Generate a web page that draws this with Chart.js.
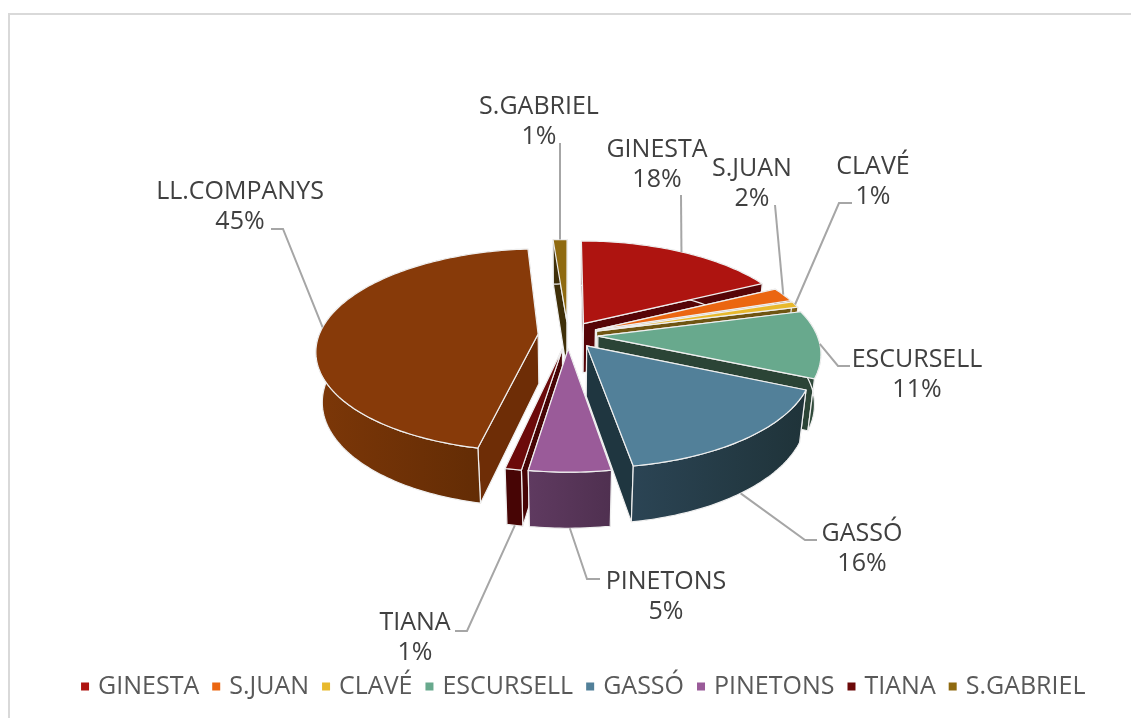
<!DOCTYPE html>
<html>
<head>
<meta charset="utf-8">
<style>
  html, body { margin: 0; padding: 0; background: #fff; }
  #frame { position: absolute; left: 8px; top: 13px; right: -4px; bottom: -4px; border: 2px solid #d9d9d9; }
  canvas { position: absolute; left: 0; top: 0; }
</style>
<script src="https://cdn.jsdelivr.net/npm/chart.js@4"></script>
</head>
<body>
<div id="frame"></div>
<canvas id="pie" width="1131" height="718"></canvas>
<script>
const categories = ['GINESTA', 'S.JUAN', 'CLAVÉ', 'ESCURSELL', 'GASSÓ', 'PINETONS', 'TIANA', 'LL.COMPANYS', 'S.GABRIEL'];
const shares = [17.6, 2.3, 1.0, 10.7, 15.8, 5.0, 1.0, 45.4, 1.2];
// la leyenda original no incluye LL.COMPANYS
const legendCategories = ['GINESTA', 'S.JUAN', 'CLAVÉ', 'ESCURSELL', 'GASSÓ', 'PINETONS', 'TIANA', 'S.GABRIEL'];

const topColors = ['#ae1410', '#eb6611', '#e8b92d', '#68a98d', '#528099', '#9a5b99', '#6c0a0a', '#873a09', '#8f6a10'];
const cutColors = ['#560507', '#70300a', '#6f5512', '#2b4436', '#1f3640', '#4f3050', '#470505', '#6e2d06', '#3f2f08'];
const wallLeft = ['#560507', '#8a3d0a', '#8a6c18', '#35503f', '#2b4454', '#5f3a60', '#470505', '#7c3708', '#3f2f08'];
const wallRight = ['#560507', '#70300a', '#6f5512', '#2b4436', '#1f3339', '#4f3050', '#470505', '#5c2904', '#3f2f08'];

// posicion de cada etiqueta y codo de su linea guia
const labelX = [657, 752, 873, 917, 862, 666, 415, 240, 539];
const labelY = [149.5, 168.5, 166.5, 359.5, 533.5, 581.5, 622.5, 191.5, 106.5];
const leaderEnds = [
  [[681, 195]],
  [[775, 205]],
  [[839, 203], [852, 203]],
  [[838, 366], [850, 366]],
  [[805, 540], [817, 540]],
  [[587, 579], [600, 579]],
  [[467, 631], [455, 631]],
  [[283, 229], [271, 229]],
  [[560, 143]]
];

// proyeccion 3D de la tarta
const pieCx = 568, pieCy = 335;
const explode = 30, depth = 51;
const tilt = 0.452, persp = 0.00072, taper = 0.0005;
const edgeColor = '#efefef';
const labelFont = '25px "Open Sans"';

function project(px, py, d) {
  const w = 1 - py * persp + d * taper;
  return { x: pieCx + px / w, y: pieCy + (py * tilt + d) / w };
}

function slicePoint(arc, angle, r, d) {
  const mid = (arc.startAngle + arc.endAngle) / 2;
  const px = Math.cos(mid) * explode + Math.cos(angle) * r;
  const py = Math.sin(mid) * explode + Math.sin(angle) * r;
  return project(px, py, d);
}

function fillPoly(ctx, pts, fill) {
  ctx.beginPath();
  pts.forEach((p, i) => i ? ctx.lineTo(p.x, p.y) : ctx.moveTo(p.x, p.y));
  ctx.closePath();
  ctx.fillStyle = fill;
  ctx.fill();
  ctx.stroke();
}

const pie3dPlugin = {
  id: 'pie3d',
  beforeDatasetsDraw(chart) {
    const { ctx } = chart;
    const arcs = chart.getDatasetMeta(0).data;
    // de atras hacia delante
    const order = arcs.map((a, i) => i).sort((a, b) => {
      const ma = (arcs[a].startAngle + arcs[a].endAngle) / 2;
      const mb = (arcs[b].startAngle + arcs[b].endAngle) / 2;
      return Math.sin(ma) - Math.sin(mb);
    });
    ctx.save();
    ctx.lineJoin = 'round';
    ctx.lineWidth = 1.2;
    ctx.strokeStyle = edgeColor;
    order.forEach((i) => {
      const arc = arcs[i];
      const r = arc.outerRadius;
      const steps = Math.max(2, Math.ceil((arc.endAngle - arc.startAngle) / 0.02));
      const topArc = [], bottomArc = [];
      for (let s = 0; s <= steps; s++) {
        const a = arc.startAngle + (arc.endAngle - arc.startAngle) * s / steps;
        topArc.push(slicePoint(arc, a, r, 0));
        bottomArc.push(slicePoint(arc, a, r, depth));
      }
      const apexTop = slicePoint(arc, arc.startAngle, 0, 0);
      const apexBottom = slicePoint(arc, arc.startAngle, 0, depth);

      // caras de corte, primero la mas lejana
      const cuts = [
        [topArc[0], bottomArc[0]],
        [topArc[steps], bottomArc[steps]]
      ].sort((a, b) => a[0].y - b[0].y);
      cuts.forEach((c) => fillPoly(ctx, [apexTop, c[0], c[1], apexBottom], cutColors[i]));

      // pared exterior con degradado horizontal
      const xs = topArc.map((p) => p.x);
      const grad = ctx.createLinearGradient(Math.min(...xs), 0, Math.max(...xs), 0);
      grad.addColorStop(0, wallLeft[i]);
      grad.addColorStop(1, wallRight[i]);
      fillPoly(ctx, topArc.concat(bottomArc.slice().reverse()), grad);

      // cara superior
      fillPoly(ctx, [apexTop].concat(topArc), topColors[i]);
    });
    ctx.restore();
    return false;
  },
  // beforeDatasetsDraw cancela los datasets, asi que las etiquetas van aqui
  afterDraw(chart) {
    const { ctx } = chart;
    const arcs = chart.getDatasetMeta(0).data;
    ctx.save();
    ctx.strokeStyle = '#a6a6a6';
    ctx.lineWidth = 2;
    arcs.forEach((arc, i) => {
      const mid = (arc.startAngle + arc.endAngle) / 2;
      const onWall = Math.sin(mid) > 0.5;
      const start = slicePoint(arc, mid, arc.outerRadius, onWall ? depth : 0);
      ctx.beginPath();
      ctx.moveTo(start.x, start.y);
      leaderEnds[i].forEach((p) => ctx.lineTo(p[0], p[1]));
      ctx.stroke();
    });
    ctx.font = labelFont;
    ctx.fillStyle = '#404040';
    ctx.textAlign = 'center';
    ctx.textBaseline = 'middle';
    categories.forEach((name, i) => {
      ctx.fillText(name, labelX[i], labelY[i]);
      ctx.fillText(Math.round(shares[i]) + '%', labelX[i], labelY[i] + 30);
    });
    ctx.restore();
  }
};

new Chart(document.getElementById('pie'), {
  type: 'pie',
  data: {
    labels: categories,
    datasets: [{
      data: shares,
      backgroundColor: topColors,
      borderColor: topColors,
      borderWidth: 7 // el cuadrito de la leyenda sale de este borde
    }]
  },
  options: {
    responsive: false,
    animation: false,
    radius: 219,
    layout: { padding: { left: 39, bottom: 9 } },
    plugins: {
      tooltip: { enabled: false },
      legend: {
        position: 'bottom',
        labels: {
          boxWidth: 1,
          boxHeight: 1,
          padding: 16.5,
          color: '#595959',
          font: { family: '"Open Sans"', size: 25 },
          filter: (item) => legendCategories.includes(item.text)
        }
      }
    }
  },
  plugins: [pie3dPlugin]
});
</script>
</body>
</html>
